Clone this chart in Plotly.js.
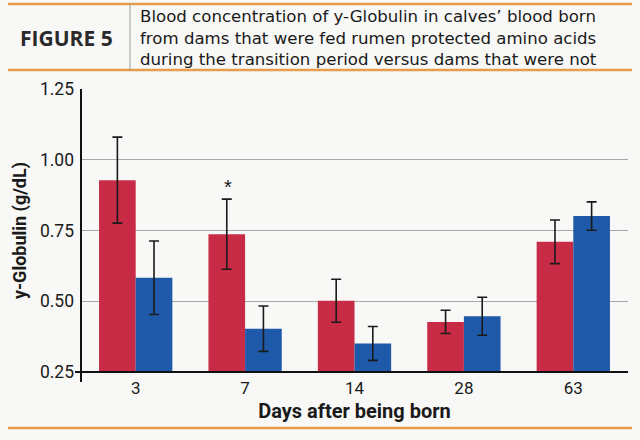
<!DOCTYPE html>
<html>
<head>
<meta charset="utf-8">
<script src="https://cdn.plot.ly/plotly-3.0.1.min.js"></script>
<style>
html,body{margin:0;padding:0;background:#f8f8f6;}
#chart{width:640px;height:440px;}
</style>
</head>
<body>
<div id="chart"></div>
<script>
const days = ['3', '7', '14', '28', '63'];
const fedValues = [0.928, 0.737, 0.502, 0.427, 0.710];
const fedErrors = [0.152, 0.124, 0.076, 0.041, 0.077];
const notFedValues = [0.583, 0.403, 0.351, 0.447, 0.801];
const notFedErrors = [0.130, 0.080, 0.060, 0.067, 0.050];
const yTicks = [0.25, 0.50, 0.75, 1.00, 1.25];
const yTickLabels = ['0.25', '0.50', '0.75', '1.00', '1.25'];
const headerLabel = 'FIGURE 5';
const titleLines = [
  'Blood concentration of y-Globulin in calves\u2019 blood born',
  'from dams that were fed rumen protected amino acids',
  'during the transition period versus dams that were not'
];
const significantDay = '7';
const significantValue = 0.905;

const narrow = 'Roboto, "Liberation Sans", Arial, sans-serif';
const headFont = '"Open Sans", "Noto Sans", sans-serif';
const titleFont = '"DejaVu Sans", "Open Sans", sans-serif';
const orange = '#e59c4c';

const errStyle = {type: 'data', visible: true, color: '#1a1a1a', thickness: 1.6, width: 5};

const traces = [
  {type: 'bar', x: days, y: fedValues, name: 'Fed',
   marker: {color: '#c72b45'},
   error_y: Object.assign({array: fedErrors}, errStyle)},
  {type: 'bar', x: days, y: notFedValues, name: 'Not fed',
   marker: {color: '#1f59a9'},
   error_y: Object.assign({array: notFedErrors}, errStyle)}
];

// pixel -> paper helpers for the header block
const pxX = px => (px - 81) / 547;
const pxY = py => (372 - py) / 283;

const layout = {
  width: 640, height: 440,
  paper_bgcolor: '#f8f8f6', plot_bgcolor: '#f8f8f6',
  margin: {l: 81, r: 12, t: 89, b: 68},
  showlegend: false,
  barmode: 'group', bargap: 0.33, bargroupgap: 0,
  xaxis: {
    type: 'category', showgrid: false, showline: false, ticks: '',
    range: [-0.5, days.length - 0.5],
    tickfont: {family: narrow, size: 17, color: '#1a1a1a'},
    ticklabelstandoff: 4,
    title: {text: 'Days after being born', font: {family: narrow, size: 20, color: '#1a1a1a', weight: 'bold'}, standoff: 6}
  },
  yaxis: {
    range: [0.25, 1.25], tickvals: yTicks, ticktext: yTickLabels,
    showgrid: true, gridcolor: '#a8a8a8', gridwidth: 1,
    showline: false, zeroline: false, ticks: '',
    tickfont: {family: narrow, size: 17.5, color: '#1a1a1a'},
    ticklabelstandoff: 6,
    title: {text: 'y-Globulin (g/dL)', font: {family: narrow, size: 18, color: '#1a1a1a', weight: 'bold'}, standoff: 8}
  },
  shapes: [
    {type: 'line', xref: 'paper', yref: 'paper', x0: 0.0, x1: 0.0, y0: 1.0, y1: pxY(382), line: {color: '#111', width: 2}},
    {type: 'line', xref: 'paper', yref: 'paper', x0: pxX(75), x1: 1.0, y0: 0, y1: 0, line: {color: '#111', width: 2}},
    {type: 'line', xref: 'paper', yref: 'paper', x0: pxX(8), x1: pxX(632), y0: pxY(4), y1: pxY(4), line: {color: orange, width: 2.5}},
    {type: 'line', xref: 'paper', yref: 'paper', x0: pxX(8), x1: pxX(632), y0: pxY(70), y1: pxY(70), line: {color: orange, width: 2.5}},
    {type: 'line', xref: 'paper', yref: 'paper', x0: pxX(130), x1: pxX(130), y0: pxY(70), y1: pxY(4), line: {color: '#9a9a9a', width: 1}},
    {type: 'line', xref: 'paper', yref: 'paper', x0: pxX(8), x1: pxX(632), y0: pxY(428), y1: pxY(428), line: {color: orange, width: 2.5}}
  ],
  annotations: [
    {xref: 'paper', yref: 'paper', x: pxX(66), y: pxY(38), xanchor: 'center', yanchor: 'middle',
     text: '<b>' + headerLabel + '</b>', showarrow: false,
     font: {family: headFont, size: 21, color: '#2a2a2a', weight: 800}},
    {xref: 'paper', yref: 'paper', x: pxX(138), y: pxY(38), xanchor: 'left', yanchor: 'middle', align: 'left',
     text: titleLines.join('<br>'), showarrow: false,
     font: {family: titleFont, size: 16.6, color: '#1a1a1a'}},
    {xref: 'x', yref: 'y', x: days.indexOf(significantDay), y: significantValue, xshift: -17, yanchor: 'middle',
     text: '*', showarrow: false, font: {family: 'Arial, sans-serif', size: 20, color: '#1a1a1a'}}
  ]
};

Plotly.newPlot('chart', traces, layout, {displayModeBar: false, staticPlot: true});
</script>
</body>
</html>
